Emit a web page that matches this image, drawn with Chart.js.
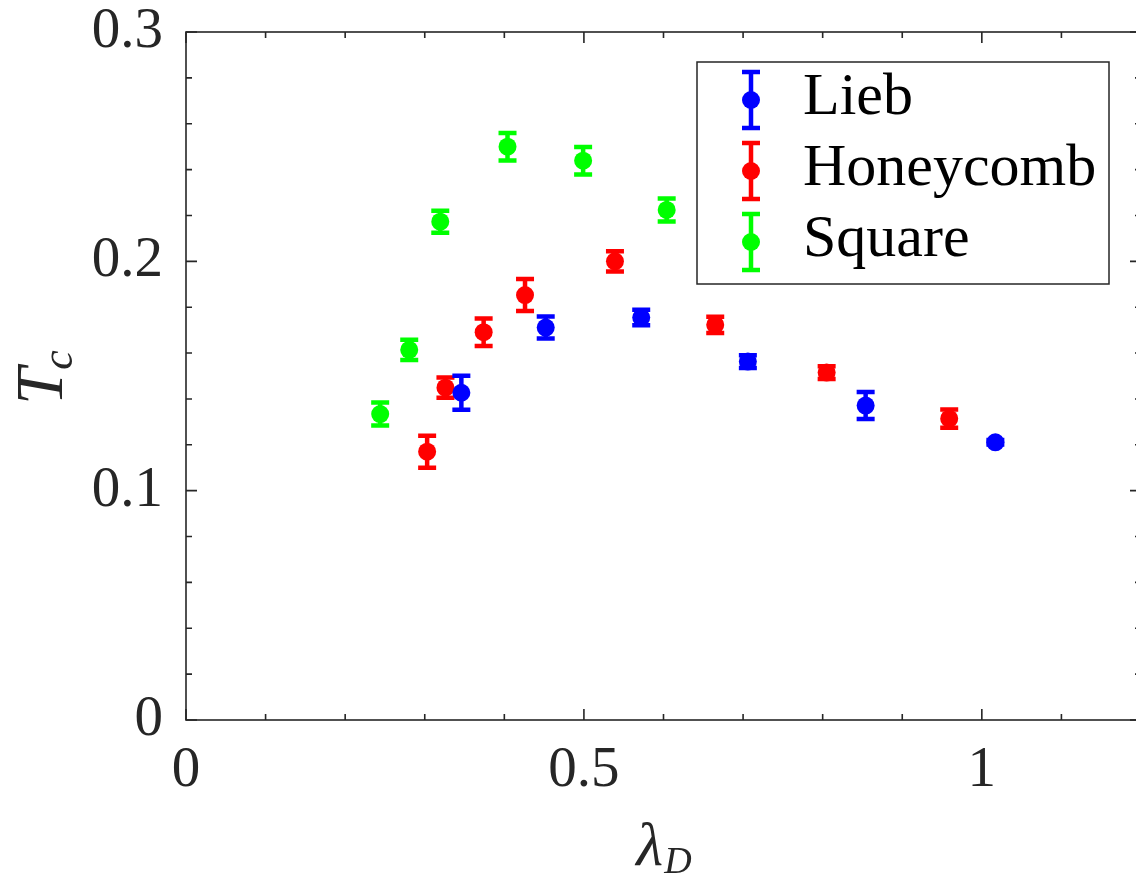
<!DOCTYPE html>
<html>
<head>
<meta charset="utf-8">
<script src="https://cdn.jsdelivr.net/npm/chart.js@4/dist/chart.umd.min.js"></script>
<style>
  html, body { margin: 0; padding: 0; background: #fff; overflow: hidden; }
  canvas { display: block; }
</style>
</head>
<body>
<canvas id="myChart" width="1150" height="878"></canvas>
<script>
// values
const liebX = [0.346, 0.452, 0.572, 0.706, 0.854, 1.017];
const liebY = [0.1427, 0.1711, 0.1755, 0.1563, 0.1371, 0.1211];
const liebErr = [0.0074, 0.0048, 0.0034, 0.0028, 0.0059, 0.001];

const honeyX = [0.303, 0.326, 0.374, 0.426, 0.539, 0.665, 0.805, 0.959];
const honeyY = [0.117, 0.1449, 0.1691, 0.1853, 0.2, 0.1723, 0.1515, 0.1314];
const honeyErr = [0.007, 0.0044, 0.006, 0.007, 0.0044, 0.0035, 0.0028, 0.004];

const squareX = [0.244, 0.2805, 0.3195, 0.404, 0.499, 0.604];
const squareY = [0.1334, 0.1614, 0.2173, 0.25, 0.2439, 0.2224];
const squareErr = [0.005, 0.0044, 0.0048, 0.006, 0.006, 0.005];

const seriesNames = ['Lieb', 'Honeycomb', 'Square'];
const xTicks = [0, 0.5, 1];
const yTicks = [0, 0.1, 0.2, 0.3];

const axisColor = '#262626';
const serif = '"Liberation Serif", "DejaVu Serif", serif';

const toPoints = (xs, ys) => xs.map((x, i) => ({ x: x, y: ys[i] }));

const makeSet = (label, xs, ys, errs, color) => ({
    label: label,
    data: toPoints(xs, ys),
    errors: errs,
    showLine: false,
    pointStyle: 'circle',
    pointRadius: 9,
    pointHoverRadius: 9,
    pointBorderWidth: 0,
    backgroundColor: color,
    borderColor: color
});

// error bars, drawn just before each dataset's markers
const errorBars = {
    id: 'errorBars',
    beforeDatasetDraw(chart, args) {
        const ds = chart.data.datasets[args.index];
        const xs = chart.scales.x, ys = chart.scales.y;
        const ctx = chart.ctx;
        ctx.save();
        ctx.strokeStyle = ds.borderColor;
        ctx.lineWidth = 4.5;
        ctx.lineCap = 'butt';
        ds.data.forEach((p, i) => {
            const px = xs.getPixelForValue(p.x);
            const top = ys.getPixelForValue(p.y + ds.errors[i]);
            const bot = ys.getPixelForValue(p.y - ds.errors[i]);
            ctx.beginPath();
            ctx.moveTo(px, top); ctx.lineTo(px, bot);
            ctx.moveTo(px - 9, top); ctx.lineTo(px + 9, top);
            ctx.moveTo(px - 9, bot); ctx.lineTo(px + 9, bot);
            ctx.stroke();
        });
        ctx.restore();
    }
};

// box, inward ticks, axis titles and legend
const frame = {
    id: 'frame',
    afterDraw(chart) {
        const ctx = chart.ctx;
        const a = chart.chartArea;
        const xs = chart.scales.x, ys = chart.scales.y;
        ctx.save();
        ctx.strokeStyle = axisColor;
        ctx.lineWidth = 1.6;
        ctx.strokeRect(a.left, a.top, a.right - a.left, a.bottom - a.top);

        ctx.beginPath();
        for (let k = 0; k <= 12; k++) {
            const v = k / 10;
            const len = (k % 5 === 0) ? 11 : 6;
            const px = xs.getPixelForValue(v);
            ctx.moveTo(px, a.bottom); ctx.lineTo(px, a.bottom - len);
            ctx.moveTo(px, a.top); ctx.lineTo(px, a.top + len);
        }
        for (let k = 0; k <= 15; k++) {
            const v = k / 50;
            const len = (k % 5 === 0) ? 11 : 6;
            const py = ys.getPixelForValue(v);
            ctx.moveTo(a.left, py); ctx.lineTo(a.left + len, py);
            ctx.moveTo(a.right, py); ctx.lineTo(a.right - len, py);
        }
        ctx.stroke();

        // y title: T_c
        ctx.fillStyle = axisColor;
        ctx.save();
        ctx.translate(62, 405);
        ctx.rotate(-Math.PI / 2);
        ctx.textBaseline = 'alphabetic';
        ctx.textAlign = 'left';
        ctx.font = 'italic 67px ' + serif;
        ctx.fillText('T', 0, 0);
        const tw = ctx.measureText('T').width;
        ctx.font = 'italic 44px ' + serif;
        ctx.fillText('c', tw - 2, 10);
        ctx.restore();

        // x title: lambda_D
        ctx.textAlign = 'left';
        ctx.textBaseline = 'alphabetic';
        ctx.font = 'italic 62px ' + serif;
        const lw = ctx.measureText('λ').width;
        ctx.font = 'italic 38px ' + serif;
        const dw = ctx.measureText('D').width;
        const cx = (a.left + a.right) / 2;
        const x0 = cx - (lw + dw) / 2;
        ctx.font = 'italic 62px ' + serif;
        ctx.fillText('λ', x0, 865);
        ctx.font = 'italic 38px ' + serif;
        ctx.fillText('D', x0 + lw + 1, 873);

        // legend
        const bx = 697, by = 62, bw = 412, bh = 222;
        ctx.fillStyle = '#fff';
        ctx.fillRect(bx, by, bw, bh);
        ctx.lineWidth = 1.5;
        ctx.strokeStyle = axisColor;
        ctx.strokeRect(bx, by, bw, bh);
        const rows = [100, 171, 242];
        chart.data.datasets.forEach((ds, i) => {
            const y = rows[i], x = 751;
            ctx.strokeStyle = ds.borderColor;
            ctx.fillStyle = ds.backgroundColor;
            ctx.lineWidth = 4.5;
            ctx.beginPath();
            ctx.moveTo(x, y - 28); ctx.lineTo(x, y + 28);
            ctx.moveTo(x - 9, y - 28); ctx.lineTo(x + 9, y - 28);
            ctx.moveTo(x - 9, y + 28); ctx.lineTo(x + 9, y + 28);
            ctx.stroke();
            ctx.beginPath();
            ctx.arc(x, y, 9, 0, Math.PI * 2);
            ctx.fill();
            ctx.fillStyle = '#000';
            ctx.font = '60px ' + serif;
            ctx.fillText(ds.label, 803, y + 14);
        });
        ctx.restore();
    }
};

const chartRef = document.getElementById('myChart').getContext('2d');
new Chart(chartRef, {
    type: 'scatter',
    data: {
        datasets: [
            makeSet(seriesNames[0], liebX, liebY, liebErr, '#0000ff'),
            makeSet(seriesNames[1], honeyX, honeyY, honeyErr, '#ff0000'),
            makeSet(seriesNames[2], squareX, squareY, squareErr, '#00ff00')
        ]
    },
    options: {
        responsive: false,
        animation: false,
        layout: { padding: { top: 32, right: 0, left: 0, bottom: 0 } },
        plugins: {
            legend: { display: false },
            tooltip: { enabled: false }
        },
        scales: {
            x: {
                type: 'linear',
                min: 0,
                max: 1.2,
                grid: { display: false, drawTicks: false, tickLength: 0 },
                border: { display: false },
                afterBuildTicks: s => { s.ticks = xTicks.map(v => ({ value: v })); },
                afterFit: s => { s.height = 158; s.paddingLeft = 0; s.paddingRight = 0; },
                ticks: {
                    autoSkip: false,
                    maxRotation: 0,
                    padding: 17,
                    color: axisColor,
                    font: { family: serif, size: 57 },
                    callback: v => String(v)
                }
            },
            y: {
                type: 'linear',
                min: 0,
                max: 0.3,
                grid: { display: false, drawTicks: false, tickLength: 0 },
                border: { display: false },
                afterBuildTicks: s => { s.ticks = yTicks.map(v => ({ value: v })); },
                afterFit: s => { s.width = 186; s.paddingTop = 0; s.paddingBottom = 0; },
                ticks: {
                    autoSkip: false,
                    padding: 23,
                    color: axisColor,
                    font: { family: serif, size: 57 },
                    callback: v => String(v)
                }
            }
        }
    },
    plugins: [errorBars, frame]
});
</script>
</body>
</html>
